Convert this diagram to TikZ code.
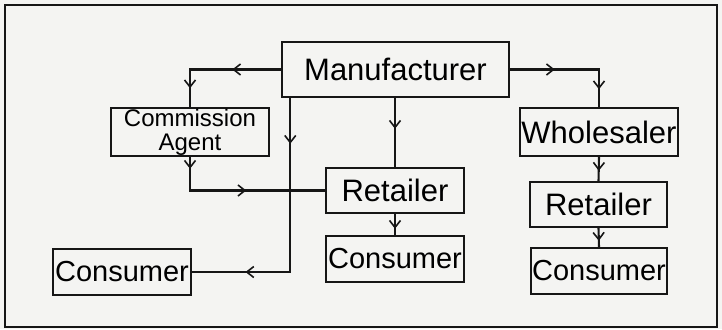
\documentclass[tikz,border=0pt]{standalone}
\usepackage{fontspec}
\setmainfont{Liberation Sans}
\usetikzlibrary{arrows.meta,decorations.markings,calc}
\definecolor{bg}{RGB}{244,244,242}
\definecolor{ink}{RGB}{22,22,22}
\tikzset{
  box/.style={draw=ink, line width=1.5pt, inner sep=0pt, align=center,
    font=\fontsize{31}{31}\selectfont},
  mybarb/.tip={Straight Barb[length=7pt,width=11pt,line width=1.6pt]},
  conn/.style={draw=ink, line width=2.1pt},
  arrA/.style={conn, postaction={decorate},
    decoration={markings, mark=at position #1 with {\arrow{mybarb}}}},
  arrB/.style n args={2}{conn, postaction={decorate},
    decoration={markings, mark=at position #1 with {\arrow{mybarb}},
                          mark=at position #2 with {\arrow{mybarb}}}},
}
\begin{document}
\begin{tikzpicture}[x=1pt, y=-1pt]
  \fill[bg] (0,0) rectangle (722,329);
  \useasboundingbox (0,0) rectangle (722,329);
  \draw[ink, line width=2pt] (5,5) rectangle (717,327);

  \node[box, minimum width=227pt, minimum height=55pt] (M) at (395.5,69.5) {Manufacturer};
  \node[box, minimum width=158pt, minimum height=48pt, font=\fontsize{24}{24}\selectfont] (CA) at (190,132) {Commission\\Agent};
  \node[box, minimum width=158pt, minimum height=48pt] (W) at (599,132) {Wholesaler};
  \node[box, minimum width=138pt, minimum height=45pt] (R1) at (395,190.5) {Retailer};
  \node[box, minimum width=138pt, minimum height=46pt, font=\fontsize{29}{29}\selectfont] (C1) at (395,259) {Consumer};
  \node[box, minimum width=138pt, minimum height=46pt, font=\fontsize{29}{29}\selectfont] (C0) at (122,272) {Consumer};
  \node[box, minimum width=137pt, minimum height=45pt] (R2) at (598.5,204.5) {Retailer};
  \node[box, minimum width=136pt, minimum height=46pt, font=\fontsize{29}{29}\selectfont] (C2) at (599,271) {Consumer};

  \coordinate (Mdown) at ($(M.south west)+(9,0)$);

  \path[arrB={49pt}{110pt}] (M.west) -| (CA.north);
  \path[arrB={45pt}{109pt}] (M.east) -| (W.north);
  \path[arrA={31pt}] (M.south -| R1.north) -- (R1.north);
  \path[arrB={46pt}{219pt}] (Mdown) |- (C0.east);
  \path[arrB={12pt}{90pt}] (CA.south) |- (R1.west);
  \path[arrA={15pt}] (R1.south) -- (C1.north);
  \path[arrA={14pt}] (W.south) -- (R2.north);
  \path[arrA={13pt}] (R2.south) -- (C2.north);
\end{tikzpicture}
\end{document}
